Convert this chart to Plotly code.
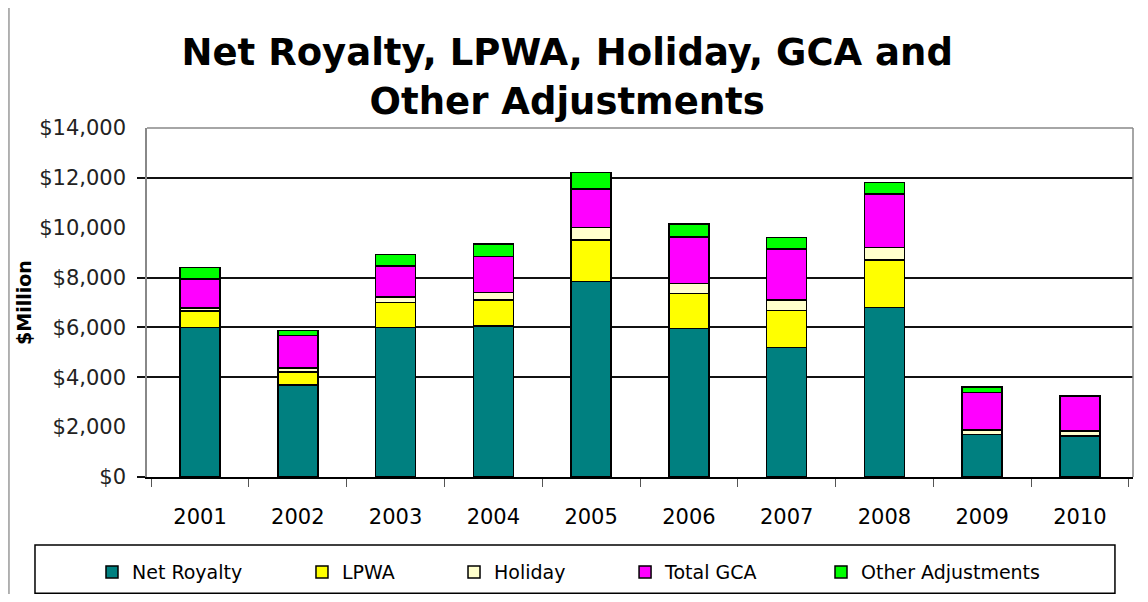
import plotly.graph_objects as go

years = ["2001", "2002", "2003", "2004", "2005", "2006", "2007", "2008", "2009", "2010"]
net_royalty = [6000, 3700, 6000, 6050, 7850, 5950, 5200, 6800, 1700, 1650]
lpwa = [650, 520, 1000, 1050, 1650, 1420, 1480, 1900, 0, 0]
holiday = [120, 150, 230, 300, 500, 400, 420, 500, 180, 200]
total_gca = [1180, 1300, 1230, 1450, 1550, 1850, 2050, 2150, 1500, 1400]
other_adj = [450, 200, 470, 500, 670, 520, 450, 470, 230, 0]

series = [
    ("Net Royalty", net_royalty, "#008080"),
    ("LPWA", lpwa, "#FFFF00"),
    ("Holiday", holiday, "#FFFFCC"),
    ("Total GCA", total_gca, "#FF00FF"),
    ("Other Adjustments", other_adj, "#00FF00"),
]

y_ticks = [0, 2000, 4000, 6000, 8000, 10000, 12000, 14000]
y_tick_text = ["$0", "$2,000", "$4,000", "$6,000", "$8,000", "$10,000", "$12,000", "$14,000"]
grid_levels = [0, 4000, 6000, 8000, 12000]

FONT = "DejaVu Sans, Arial, sans-serif"

# left edge of each legend entry (fraction of figure width)
legend_x = [0.0742, 0.2597, 0.3940, 0.5451, 0.7182]
legend_ids = ["legend", "legend2", "legend3", "legend4", "legend5"]

fig = go.Figure()
for (name, vals, col), lid in zip(series, legend_ids):
    fig.add_trace(go.Bar(
        x=years, y=vals, name=name, legend=lid,
        marker=dict(color=col, line=dict(color="black", width=1.5)),
    ))

# helper trace so that the label axis is rendered
fig.add_trace(go.Scatter(
    x=years, y=[None] * len(years), yaxis="y2",
    showlegend=False, hoverinfo="skip", mode="markers",
))

legend_layout = {}
for lid, lx in zip(legend_ids, legend_x):
    legend_layout[lid] = dict(
        orientation="h",
        xref="container", x=lx, xanchor="left",
        yref="container", y=0.0375, yanchor="middle",
        borderwidth=0, bgcolor="rgba(0,0,0,0)",
        font=dict(size=19, color="black"),
        itemclick=False, itemdoubleclick=False,
    )

fig.update_layout(
    barmode="stack",
    bargap=0.59,
    width=1132, height=586,
    paper_bgcolor="white", plot_bgcolor="white",
    margin=dict(l=139, r=7, t=120, b=117),
    font=dict(family=FONT, color="black"),
    title=dict(
        text="<b>Net Royalty, LPWA, Holiday, GCA and<br>Other Adjustments</b>",
        font=dict(family=FONT, size=37, color="black"),
        x=0.494, xanchor="center", xref="container",
        y=0.902, yanchor="top", yref="container",
    ),
    xaxis=dict(
        type="category",
        showline=True, linecolor="black", linewidth=1.5,
        ticks="outside", ticklen=8, tickcolor="#555", tickson="boundaries",
        tickfont=dict(size=21, color="black"),
        ticklabelstandoff=20,
        showgrid=False,
    ),
    yaxis=dict(
        range=[0, 14000],
        tickvals=grid_levels,
        showticklabels=False,
        ticks="outside", ticklen=8, tickcolor="#111", tickwidth=1.5,
        showgrid=True, gridcolor="#111", gridwidth=1.5,
        zeroline=False,
        showline=True, linecolor="#888", linewidth=1.5,
    ),
    yaxis2=dict(
        overlaying="y", side="left",
        range=[0, 14000],
        tickvals=y_ticks, ticktext=y_tick_text,
        tickfont=dict(size=21, color="#222"),
        ticks="", ticklabelstandoff=20,
        showgrid=False, zeroline=False, showline=False,
        title=dict(text="<b>$Million</b>", font=dict(size=19, color="black"), standoff=2),
    ),
    shapes=[
        dict(type="line", xref="paper", yref="paper",
             x0=-0.140, x1=-0.140, y0=-0.335, y1=1.344,
             line=dict(color="#999", width=1.5)),
        dict(type="line", xref="paper", yref="paper",
             x0=1, x1=1, y0=0, y1=1,
             line=dict(color="#888", width=1.5)),
        dict(type="line", xref="paper", yref="paper",
             x0=0, x1=1, y0=1, y1=1,
             line=dict(color="#888", width=1.5)),
        dict(type="rect", xref="paper", yref="paper",
             x0=-0.1136, x1=0.9817, y0=-0.333, y1=-0.1948,
             line=dict(color="black", width=1.5), fillcolor="rgba(0,0,0,0)"),
    ],
    **legend_layout,
)

fig.write_html("out.html")
